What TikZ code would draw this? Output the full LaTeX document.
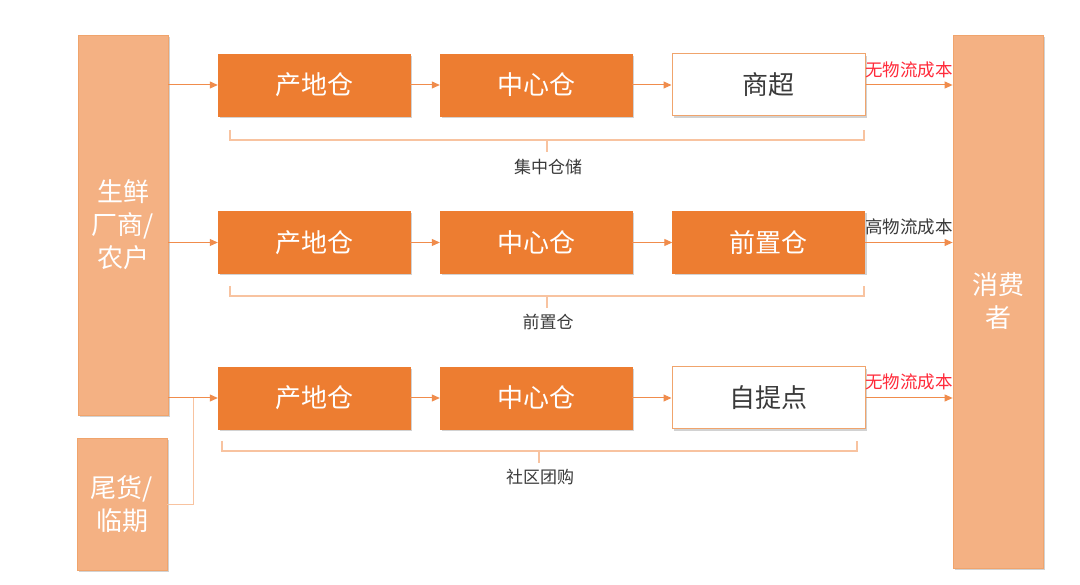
\documentclass[tikz,border=0pt]{standalone}
\usepackage{fontspec}
\setmainfont{Noto Sans CJK SC}
\usetikzlibrary{arrows.meta,shadows}
\definecolor{dark}{HTML}{ED7D31}
\definecolor{light}{HTML}{F4B183}
\definecolor{lightedge}{HTML}{F0A46C}
\definecolor{arrowc}{HTML}{F08C4C}
\definecolor{bracec}{HTML}{F8C3A0}
\definecolor{redt}{HTML}{FF2A3A}
\definecolor{grayt}{HTML}{3A3A3A}
\tikzset{
  x=1pt,y=-1pt,
  sh/.style={drop shadow={shadow xshift=2pt,shadow yshift=-2pt,fill=black!35,opacity=0.5}},
  stage/.style={sh,rectangle,fill=dark,draw=dark,minimum width=192pt,minimum height=62pt,text=white,font=\fontsize{26}{28}\selectfont,inner sep=0pt},
  endbox/.style={sh,rectangle,fill=white,draw=lightedge,line width=1pt,minimum width=193pt,minimum height=62pt,text=grayt,font=\fontsize{26}{28}\selectfont,inner sep=0pt},
  side/.style={sh,rectangle,fill=light,draw=lightedge,line width=0.8pt,text=white,font=\fontsize{26}{33}\selectfont,align=center,inner sep=0pt},
  flow/.style={draw=arrowc,line width=1pt,-{Triangle[length=8pt,width=7pt]}},
  link/.style={draw=bracec,line width=1pt},
  brace/.style={draw=bracec,line width=1.2pt},
  blabel/.style={text=grayt,font=\fontsize{17}{19}\selectfont},
  costred/.style={text=redt,font=\fontsize{17.5}{19}\selectfont,inner sep=0pt},
  costgray/.style={text=grayt,font=\fontsize{17.5}{19}\selectfont,inner sep=0pt}
}
\begin{document}
\begin{tikzpicture}
\useasboundingbox[fill=white] (0,0) rectangle (1080,585);
% side boxes
\node[side,minimum width=90pt,minimum height=380pt] (src) at (123,225) {生鲜\\厂商/\\农户};
\node[side,minimum width=90pt,minimum height=132pt] (tail) at (122,504) {尾货/\\临期};
\node[side,minimum width=90pt,minimum height=533pt] (cons) at (998,301.5) {消费\\者};
% row 1
\node[stage] (a1) at (314,85) {产地仓};
\node[stage] (b1) at (536,85) {中心仓};
\node[endbox] (c1) at (768.5,85) {商超};
% row 2
\node[stage] (a2) at (314,242.5) {产地仓};
\node[stage] (b2) at (536,242.5) {中心仓};
\node[stage] (c2) at (768.5,242.5) {前置仓};
% row 3
\node[stage] (a3) at (314,398) {产地仓};
\node[stage] (b3) at (536,398) {中心仓};
\node[endbox] (c3) at (768.5,398) {自提点};
% flows
\foreach \r in {1,2,3}{
  \draw[flow] (src.east |- a\r.west) -- (a\r.west);
  \draw[flow] (a\r) -- (b\r);
  \draw[flow] (b\r) -- (c\r);
  \draw[flow] (c\r.east) -- (cons.west |- c\r.east);
}
\coordinate (j) at (193,398);
\draw[link] (tail.east) -- (tail.east -| j) -- (j);
% cost labels
\node[costred] (k1) at (909,70) {无物流成本};
\node[costgray] (k2) at (909,227) {高物流成本};
\node[costred] (k3) at (909,382) {无物流成本};
% brackets
\draw[brace] (230,130) -- (230,140) -- (864,140) -- (864,130);
\draw[brace] (547,140) -- (547,152);
\node[blabel] (l1) at (548,167) {集中仓储};
\draw[brace] (230,286) -- (230,296) -- (864,296) -- (864,286);
\draw[brace] (547,296) -- (547,308);
\node[blabel] (l2) at (548,322) {前置仓};
\draw[brace] (222,441) -- (222,451) -- (857,451) -- (857,441);
\draw[brace] (539,451) -- (539,463);
\node[blabel] (l3) at (540,477) {社区团购};
\end{tikzpicture}
\end{document}
